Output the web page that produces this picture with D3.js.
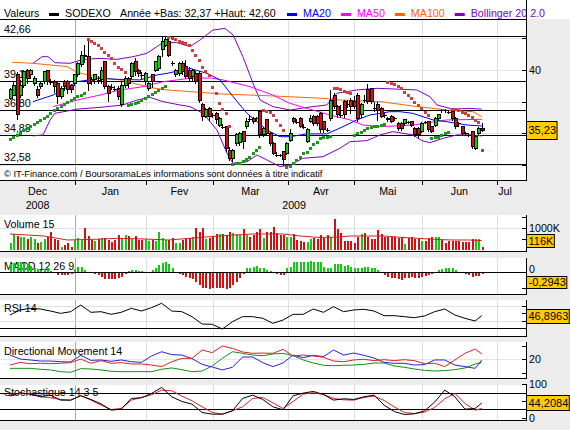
<!DOCTYPE html>
<html>
<head>
<meta charset="utf-8">
<script src="https://cdn.jsdelivr.net/npm/d3@7"></script>
<style>
body { margin: 0; background: #ececec; }
#vis { width: 570px; height: 430px; }
svg { display: block; font-family: "Liberation Sans", Arial, sans-serif; }
</style>
</head>
<body>
<div id="vis"></div>
<script>
// ---------- data ----------
var stockName = "SODEXO";
var yearLow = 32.37, yearHigh = 42.60;

var open = [37.75,38.01,39.59,38.01,38.80,39.98,39.59,38.93,38.41,38.67,
  39.06,39.98,39.06,39.06,38.93,37.88,39.06,39.06,38.80,38.93,
  39.59,40.38,41.10,41.03,39.20,39.20,39.22,39.20,40.64,38.67,
  38.67,38.54,38.54,37.23,38.80,39.33,39.46,40.64,39.98,39.60,
  39.06,38.54,39.59,39.98,40.11,41.56,41.95,42.21,40.55,39.59,
  39.72,40.51,40.25,39.98,39.46,39.72,39.72,37.23,36.31,36.96,
  36.45,36.57,35.65,35.55,35.52,33.68,33.03,34.21,34.30,35.13,
  35.52,36.18,36.18,36.20,36.70,34.87,36.05,35.00,34.21,33.30,
  33.30,33.55,33.42,34.47,36.18,35.93,36.18,35.54,34.34,35.91,
  36.31,36.31,36.57,35.91,35.27,36.18,38.01,37.10,36.46,37.49,
  37.30,37.62,37.49,38.01,36.44,37.63,38.41,38.54,36.98,37.23,
  36.96,36.46,36.18,36.31,36.19,35.78,35.78,35.78,35.92,35.91,
  35.39,35.39,35.13,35.92,35.91,35.52,35.65,36.18,36.84,36.84,
  36.71,36.70,36.18,35.79,35.52,35.01,34.88,35.13,33.82,35.00,
  35.39];
var high = [38.6,39.0,39.8,39.2,40.0,40.1,40.1,39.5,38.7,39.1,
  39.9,40.0,39.3,39.2,39.0,38.7,39.2,39.2,38.9,39.7,
  40.6,41.5,41.95,42.3,39.4,39.7,39.5,40.2,40.7,38.8,
  38.9,38.7,38.7,39.0,39.5,39.4,40.6,40.9,40.1,39.8,
  39.8,39.1,39.7,40.7,41.2,42.6,42.6,42.5,40.7,40.1,
  40.6,40.7,40.8,40.2,40.1,39.9,39.9,37.4,37.0,37.1,
  36.6,36.7,36.3,35.7,35.6,33.9,33.8,35.0,35.1,35.2,
  36.2,36.4,36.3,36.3,36.8,35.5,36.1,35.1,34.3,33.5,
  33.4,33.6,34.3,35.3,36.3,36.1,36.3,35.7,35.4,36.4,
  36.4,36.4,36.7,36.0,35.4,38.4,38.2,37.2,37.2,37.6,
  37.6,37.8,37.9,38.2,37.4,38.0,38.9,38.6,37.5,37.5,
  37.1,36.6,36.3,36.4,36.3,35.9,35.9,36.1,36.0,36.0,
  35.5,35.5,35.9,36.0,36.0,35.6,36.3,36.5,36.95,36.95,
  36.8,36.8,36.3,35.9,35.6,35.1,35.0,35.2,34.9,35.5,
  35.8];
var low = [37.6,37.9,36.05,37.8,38.6,38.9,39.3,38.7,37.8,38.5,
  38.9,38.8,38.8,38.2,37.3,37.7,38.3,38.1,38.2,38.7,
  39.4,40.2,40.5,38.3,38.8,38.9,38.9,38.9,38.5,37.5,
  38.4,38.3,37.6,37.1,38.6,38.6,39.3,39.5,39.4,39.3,
  38.8,38.3,38.6,39.8,39.9,41.0,41.8,41.0,40.3,39.4,
  39.5,39.6,39.3,39.0,39.0,38.9,37.4,36.0,36.2,36.0,
  36.2,35.7,35.5,35.3,33.5,32.8,32.7,34.0,34.0,33.8,
  35.3,35.9,35.7,36.0,34.6,34.7,34.8,34.0,33.3,33.1,
  33.1,32.4,33.3,34.3,35.7,35.7,35.4,35.3,34.2,35.8,
  35.6,35.6,35.0,35.0,35.1,36.0,36.9,36.2,36.2,36.2,
  37.0,36.5,36.9,35.9,36.2,37.4,37.3,37.3,36.7,36.0,
  36.2,36.2,35.9,35.8,36.0,35.2,35.2,35.6,35.7,35.5,
  34.7,34.6,35.0,35.7,35.1,35.0,35.5,36.0,36.6,36.6,
  36.5,36.0,35.3,35.5,34.9,34.8,34.7,33.8,33.7,34.9,
  35.1];
var close = [38.41,38.80,36.44,38.80,39.85,39.33,39.98,39.33,38.01,38.93,
  39.85,39.06,39.04,38.67,37.88,38.54,38.67,38.41,38.46,39.59,
  40.51,41.16,41.05,38.93,39.06,39.59,39.20,39.98,38.67,38.15,
  38.65,38.52,37.88,38.80,39.33,38.93,40.51,39.85,39.72,39.58,
  39.72,38.93,39.06,40.64,41.03,42.21,42.35,41.16,40.51,39.98,
  40.51,39.85,39.46,39.33,39.98,39.06,37.62,36.31,36.90,36.31,
  36.42,36.05,36.18,35.52,33.82,33.03,33.68,34.87,35.00,34.34,
  35.91,36.15,35.91,36.18,34.87,35.39,35.00,34.21,33.42,33.28,
  33.29,32.90,34.21,35.00,35.91,35.91,35.52,35.52,35.26,36.18,
  35.78,35.78,35.26,35.26,35.26,37.62,37.10,36.44,36.44,36.44,
  37.28,37.10,37.10,36.18,37.23,37.62,37.49,37.49,36.96,36.83,
  36.31,36.44,36.05,35.91,36.18,35.39,35.39,36.05,35.91,35.65,
  34.87,34.87,35.78,35.91,35.26,35.13,36.18,36.44,36.83,36.83,
  36.70,36.18,35.52,35.78,35.00,35.00,34.87,33.95,34.73,35.39,
  35.23];

// parabolic SAR, one per session
var sar = [34.55,34.68,34.86,35.0,35.26,35.39,35.57,35.73,35.91,36.05,
  36.18,36.36,36.57,36.83,36.96,37.15,37.3,37.49,37.62,37.75,
  37.9,38.05,38.2,42.42,42.29,42.14,41.95,41.69,41.43,41.16,
  40.9,40.56,40.25,40.04,39.85,37.23,37.3,37.41,37.49,37.62,
  37.75,37.94,38.09,38.28,38.41,38.54,38.7,42.56,42.48,42.42,
  42.29,42.21,42.08,41.95,41.56,41.16,40.77,40.25,39.9,39.59,
  38.67,38.15,37.36,36.9,36.57,35.6,32.58,32.63,32.69,32.84,
  32.95,33.16,33.42,33.68,33.89,36.83,36.78,36.7,36.44,36.05,
  35.65,35.26,32.37,32.45,32.63,32.9,33.16,33.42,33.55,33.82,
  34.16,34.34,34.6,34.68,34.73,34.8,38.6,38.54,38.46,38.36,
  38.28,38.15,34.9,35.0,35.13,35.26,35.39,35.47,35.55,35.6,
  35.65,35.7,39.06,38.99,38.85,38.72,38.54,38.28,38.01,37.75,
  37.49,37.23,36.96,36.7,36.44,34.6,34.68,34.73,34.87,35.05,
  35.13,36.9,36.9,36.83,36.7,36.57,36.44,36.31,36.05,35.9,
  33.68];

// moving averages and bands: [session, value]
var ma20 = [[6.8,37.49],[12.8,38.01],[19.9,39.06],[26.7,39.33],[31.7,39.25],[38.6,39.2],[43.6,39.59],[46.6,39.72],
  [53.4,40.11],[58.4,39.72],[62.3,39.2],[66.2,37.88],[70.3,36.57],[76.2,35.26],[80.1,34.73],[83.1,34.73],[88.1,34.95],
  [94,34.95],[98.8,35.52],[102.9,36.05],[106.8,36.44],[109.8,36.57],[112.7,36.7],[115.7,36.7],[119.5,36.57],
  [125.5,36.05],[129.6,35.91],[135.6,35.65],[140,35.57]];
var ma50 = [[12.8,37.1],[19.9,37.62],[26.7,38.01],[32.6,38.41],[39.5,38.67],[45.4,39.06],[53.4,39.33],[59.4,39.35],
  [63.2,39.2],[71.2,38.67],[78,38.01],[83,37.36],[88.1,36.96],[94.9,36.44],[100.9,36.05],[104.7,35.65],[109.8,35.52],
  [119.5,35.65],[129.6,36.05],[140,36.1]];
var ma100 = [[0.6,40.59],[6.8,40.51],[16.9,40.25],[19.9,39.8],[26.7,39.38],[32.6,39.2],[39.5,38.75],[41.5,38.6],
  [46.6,38.41],[53.4,38.28],[63.2,38.09],[78,37.94],[92.9,37.75],[97.9,37.62],[109.8,37.49],[119.5,37.15],
  [129.6,36.83],[137.3,36.7],[140,36.31]];
var bollUp = [[6.8,40.51],[9.5,41.03],[11.3,41.03],[13.3,40.56],[17.8,40.51],[21.7,40.82],[26.7,40.9],[31.7,40.82],
  [36.5,41.03],[40.6,41.3],[45.4,42.14],[49.5,42.14],[53.4,41.82],[56.4,42.35],[60.2,43.13],[63.8,43.26],[66.2,42.74],
  [69.1,41.03],[72.1,38.93],[74.2,37.62],[78,37.1],[83.1,36.83],[88.1,37.04],[94,37.23],[97,38.15],[102.9,38.41],
  [108.9,38.54],[113.6,38.49],[120.7,38.41],[124.6,37.88],[126.7,37.23],[131.4,36.9],[136.5,36.96],[140,36.9]];
var bollDn = [[6.8,34.79],[9.8,34.87],[11.9,36.05],[13.3,36.57],[19.9,36.9],[26.7,37.04],[33.5,37.23],[37.7,37.62],
  [41.5,37.83],[45.4,37.49],[50.4,37.23],[53.4,37.1],[57.3,36.57],[61.4,35.26],[64.4,33.42],[66.2,32.63],[70.3,32.76],
  [73.3,33.29],[76.2,32.9],[80.1,32.37],[83.1,32.5],[86.9,33.03],[92.9,33.16],[97.9,33.82],[100.9,34.34],[105.9,34.42],
  [109.8,34.87],[113.6,35.13],[119.5,34.87],[122.2,34.42],[124.6,34.26],[128.5,34.6],[132.6,34.87],[136.5,34.87],[140,34.79]];

var levels = [42.66, 39.12, 36.80, 34.88, 32.58];
var priceTicks = [42.5, 40, 37.5, 35, 32.5];
var priceTickLabels = ["", "40", "", "", ""];

// volume in thousands
var volume = [334,728,637,576,576,485,576,485,334,379,
  485,576,834,485,455,152,228,303,121,455,
  531,455,986,637,455,425,485,531,531,455,
  379,455,683,531,683,637,485,637,455,455,
  485,425,455,425,834,531,455,455,531,334,
  303,455,485,531,576,986,834,986,485,531,
  637,728,728,728,683,834,789,728,683,940,
  683,576,683,834,940,531,834,834,1062,789,
  683,683,576,576,728,455,425,379,379,485,
  531,485,683,531,683,576,1395,940,789,425,
  425,425,303,607,728,789,607,485,485,910,
  728,607,576,576,576,531,576,273,531,576,
  485,485,425,425,531,576,576,576,455,334,
  425,425,425,425,379,379,379,485,485,485,
  116];
var volMA = [[0,728],[10,637],[17,455],[25,485],[32,531],[40,500],[47,455],[57,576],[62,637],[72,728],[81,728],
  [86,637],[91,576],[96,576],[101,637],[106,637],[111,637],[116,576],[121,531],[126,485],[131,455],[136,455],[140,425]];

var macdHist = [0.25,0.29,0.32,0.32,0.29,0.25,0.2,0.15,0.1,0.08,
  0.12,0.13,0.04,-0.03,-0.08,-0.1,-0.1,-0.1,-0.06,0.11,
  0.18,0.18,0.07,0.0,-0.03,-0.05,-0.08,-0.14,-0.2,-0.21,
  -0.22,-0.22,-0.19,-0.14,-0.06,0.04,0.07,0.07,0.05,0.04,
  0.0,0.02,0.07,0.13,0.23,0.29,0.32,0.25,0.13,-0.02,
  -0.05,-0.08,-0.14,-0.17,-0.21,-0.3,-0.4,-0.49,-0.51,-0.53,
  -0.51,-0.51,-0.49,-0.51,-0.54,-0.51,-0.4,-0.3,-0.19,-0.05,
  0.13,0.15,0.18,0.21,0.15,0.13,0.07,0.04,-0.03,-0.05,
  -0.08,-0.08,0.15,0.18,0.32,0.32,0.34,0.34,0.32,0.36,
  0.34,0.34,0.32,0.18,0.13,0.15,0.25,0.25,0.25,0.21,
  0.23,0.18,0.13,0.13,0.15,0.18,0.18,0.15,0.13,0.07,
  -0.03,-0.08,-0.14,-0.17,-0.19,-0.21,-0.24,-0.17,-0.17,-0.14,
  -0.19,-0.17,-0.14,-0.11,-0.08,-0.06,0.0,0.07,0.11,0.13,
  0.13,0.13,0.07,0.0,-0.03,-0.06,-0.08,-0.14,-0.11,-0.11,
  -0.06];
var macdLast = -0.2943;

// oscillators sampled every third session, plus the last one
var rsi = [47.6,54.3,56.5,55.6,52.9,49.8,52.0,60.9,51.2,52.0,48.5,51.2,56.5,52.9,57.4,63.2,52.9,52.0,45.4,35.6,
  35.2,28.9,38.7,45.4,45.4,43.2,36.5,40.9,48.5,48.5,55.6,51.2,58.7,52.0,54.3,55.2,52.9,46.7,46.7,45.4,
  44.0,46.3,52.0,55.6,47.6,43.2,39.6,46.8963];
var diPlus = [23.2,20.2,19.5,18.7,18.7,18.2,18.0,23.0,19.2,19.5,18.5,19.5,18.2,17.7,22.5,25.7,23.5,23.2,20.5,16.2,
  14.2,12.0,14.0,21.7,21.7,17.5,14.5,17.2,23.2,21.2,23.0,22.0,27.0,23.2,24.7,23.0,21.0,17.7,17.0,17.0,
  15.7,16.0,19.5,19.5,15.7,14.5,13.2,19.5];
var diMinus = [15.7,17.7,16.7,17.0,16.7,17.0,17.5,20.2,17.0,19.0,17.0,17.5,16.5,16.5,15.7,14.5,18.2,20.7,20.7,27.0,
  25.0,30.0,28.2,25.5,24.5,24.7,24.5,27.5,22.5,23.2,22.5,21.5,18.7,18.2,19.5,20.0,19.0,19.7,19.0,19.7,
  19.0,16.7,17.0,14.5,19.5,24.5,27.7,24.0];
var adx = [13.2,13.2,13.2,12.5,12.0,10.7,10.2,13.0,12.7,12.0,11.0,10.7,10.7,10.7,10.7,12.5,13.5,12.2,10.7,11.2,
  15.0,20.7,25.7,24.5,23.2,22.7,24.0,24.5,22.7,19.5,17.2,15.5,15.2,15.5,15.7,16.2,17.2,17.2,15.0,14.0,
  12.7,11.7,11.2,11.5,12.2,13.5,16.5,17.5];
var stoK = [64.6,74.6,70.6,62.6,67.6,52.6,52.6,65.6,54.6,41.6,22.6,25.6,57.6,59.6,72.6,90.6,62.6,48.6,40.6,15.6,
  10.6,10.6,20.6,57.6,67.6,54.6,32.6,23.6,65.6,73.6,78.6,69.6,52.6,56.6,54.6,62.6,67.6,37.6,18.6,9.6,
  11.6,20.6,46.6,82.6,62.6,25.6,27.6,44.2084];
var stoD = [69.6,72.6,72.6,62.6,59.6,54.6,52.6,66.6,52.6,37.6,24.6,27.6,52.6,60.6,68.6,82.6,80.6,64.6,50.6,32.6,
  15.6,10.6,20.6,32.6,57.6,60.6,44.6,27.6,48.6,70.6,74.6,69.6,57.6,53.6,52.6,60.6,64.6,51.6,32.6,15.6,
  12.6,16.6,30.6,56.6,72.6,42.6,22.6,27.6];

// month boundaries (session position) and labels
var monthStarts = [19.3, 40.3, 60.2, 82.5, 102.0, 122.2, 144.5];
var monthNames = ["Dec", "Jan", "Fev", "Mar", "Avr", "Mai", "Jun", "Jul"];
var yearNames = ["2008", "2009"];

// ---------- drawing ----------
var width = 570, height = 430, plotRight = 527;
var GREEN = "#14c814", RED = "#cc1414";
var firstIdx = -2.97, lastIdx = 149.3;

var svg = d3.select("#vis").append("svg")
    .attr("width", width)
    .attr("height", height)
    .style("font-size", "10.7px");

svg.append("rect").attr("width", width).attr("height", height).attr("fill", "#ececec");
svg.append("rect").attr("width", width).attr("height", 19).attr("fill", "#fff");

var x = d3.scaleLinear().domain([firstIdx, 153.4]).range([0, plotRight]);
function px(i) { return Math.round(x(i)); }
function fr(v, d) { return v.toFixed(d).replace(".", ","); }

var sampleIdx = d3.range(0, 139, 3).concat([140]);

function hline(g, y, color, x1, x2) {
    g.append("line")
        .attr("x1", x1 === undefined ? 0 : x1).attr("x2", x2 === undefined ? plotRight : x2)
        .attr("y1", Math.round(y) + 0.5).attr("y2", Math.round(y) + 0.5)
        .attr("stroke", color).attr("stroke-width", 1);
}

function panel(top, bottom, axisTop) {
    var g = svg.append("g");
    g.append("rect").attr("x", 0).attr("y", top).attr("width", plotRight).attr("height", bottom - top).attr("fill", "#fff");
    monthStarts.forEach(function(m, k) {
        g.append("line")
            .attr("x1", px(m) + 0.5).attr("x2", px(m) + 0.5)
            .attr("y1", top).attr("y2", bottom)
            .attr("stroke", k == 0 ? "#a8a8a8" : "#dedede");
    });
    hline(g, bottom - 1, "#000");
    g.append("line")
        .attr("x1", plotRight - 0.5).attr("x2", plotRight - 0.5)
        .attr("y1", axisTop === undefined ? top : axisTop).attr("y2", bottom)
        .attr("stroke", "#000");
    return g;
}

function rightTick(g, y, label, dy) {
    g.append("line").attr("x1", plotRight - 5).attr("x2", plotRight)
        .attr("y1", Math.round(y) + 0.5).attr("y2", Math.round(y) + 0.5).attr("stroke", "#000");
    if (label) g.append("text").attr("x", plotRight + 2).attr("y", y + (dy === undefined ? 4 : dy)).text(label);
}

function valueBox(yc, txt, h) {
    var r = svg.append("rect").attr("x", plotRight - 0.5).attr("y", Math.round(yc - h / 2) + 0.5)
        .attr("height", h).attr("fill", "#ffcc00").attr("stroke", "#000");
    var t = svg.append("text").attr("x", plotRight + 1.5).attr("y", yc + 4).style("font-size", "11px").text(txt);
    r.attr("width", t.node().getComputedTextLength() + 3);
}

function title(g, y, txt) {
    g.append("text").attr("x", 4).attr("y", y).text(txt);
}

// header
svg.append("text").attr("x", 4).attr("y", 17).text("Valeurs");
svg.append("rect").attr("x", 49).attr("y", 13).attr("width", 10).attr("height", 3).attr("fill", "#000");
svg.append("text").attr("x", 65).attr("y", 17).text(stockName);
svg.append("text").attr("x", 120).attr("y", 17).text("Année +Bas: " + fr(yearLow, 2) + " +Haut: " + fr(yearHigh, 2));

var legend = [["MA20", "#0000ff"], ["MA50", "#ff00ff"], ["MA100", "#ff6600"], ["Bollinger 20 2.0", "#8000c0"]];
var lx = 287;
legend.forEach(function(d) {
    svg.append("rect").attr("x", lx).attr("y", 13).attr("width", 10).attr("height", 3).attr("fill", d[1]);
    var t = svg.append("text").attr("x", lx + 16).attr("y", 17).attr("fill", d[1]).text(d[0]);
    lx = lx + 16 + t.node().getComputedTextLength() + 10;
});

// ---- price panel ----
var yP = d3.scaleLinear().domain([32.58, 42.66]).range([164, 36]);
var gp = panel(19, 181, 0);
hline(gp, 19, "#000");

priceTicks.forEach(function(v) { hline(gp, yP(v), "#e4e4e4", 0, plotRight - 1); });
levels.forEach(function(v) {
    hline(gp, yP(v), "#000");
    gp.append("text").attr("x", 4).attr("y", yP(v) - 3).text(fr(v, 2));
});
priceTicks.forEach(function(v, k) { rightTick(gp, yP(v), priceTickLabels[k]); });

var pline = d3.line().x(function(d) { return x(d[0]); }).y(function(d) { return yP(d[1]); });
[[bollUp, "#8000c0"], [bollDn, "#8000c0"], [ma100, "#ff6600"], [ma50, "#ff00ff"], [ma20, "#0000ff"]].forEach(function(s) {
    gp.append("path").attr("d", pline(s[0])).attr("fill", "none").attr("stroke", s[1]).attr("stroke-width", 1);
});

var candles = gp.append("g").attr("shape-rendering", "crispEdges");
close.forEach(function(c, i) {
    var cx = px(i);
    candles.append("line")
        .attr("x1", cx + 0.5).attr("x2", cx + 0.5)
        .attr("y1", yP(high[i])).attr("y2", yP(low[i]))
        .attr("stroke", "#000");
    var o = open[i];
    if (Math.abs(o - c) < 0.05) {
        candles.append("line")
            .attr("x1", cx - 1.5).attr("x2", cx + 2.5)
            .attr("y1", Math.round(yP(c)) + 0.5).attr("y2", Math.round(yP(c)) + 0.5)
            .attr("stroke", "#000").attr("stroke-width", 1.5);
    } else {
        var top = yP(Math.max(o, c)), bot = yP(Math.min(o, c));
        candles.append("rect")
            .attr("x", cx - 1).attr("y", top)
            .attr("width", 3).attr("height", Math.max(1, bot - top))
            .attr("fill", c > o ? GREEN : RED)
            .attr("stroke", "#000").attr("stroke-width", 1);
    }
});

gp.selectAll(".sar").data(sar).enter().append("rect")
    .attr("class", "sar")
    .attr("x", function(d, i) { return px(i) - 1; })
    .attr("y", function(d) { return Math.round(yP(d)) - 1; })
    .attr("width", 3).attr("height", 3)
    .attr("fill", function(d, i) { return d > close[i] ? "#c84040" : "#1e961e"; });

gp.append("text").attr("x", 4).attr("y", 177).style("font-size", "9.3px")
    .text("© IT-Finance.com / BoursoramaLes informations sont données à titre indicatif");

valueBox(yP(close[close.length - 1]), fr(close[close.length - 1], 2), 18);

// ---- date axis ----
var bounds = [firstIdx].concat(monthStarts).concat([lastIdx]);
monthStarts.forEach(function(m) {
    svg.append("line").attr("x1", px(m) + 0.5).attr("x2", px(m) + 0.5)
        .attr("y1", 181).attr("y2", 185).attr("stroke", "#000");
});
monthNames.forEach(function(n, k) {
    svg.append("text").attr("x", (x(bounds[k]) + x(bounds[k + 1])) / 2).attr("y", 195)
        .attr("text-anchor", "middle").text(n);
});
var yearBounds = [[firstIdx, monthStarts[0]], [monthStarts[0], lastIdx]];
yearNames.forEach(function(n, k) {
    svg.append("text").attr("x", (x(yearBounds[k][0]) + x(yearBounds[k][1])) / 2).attr("y", 209)
        .attr("text-anchor", "middle").text(n);
});

// ---- volume ----
var yV = d3.scaleLinear().domain([0, 1000]).range([250, 228]);
var gv = panel(215, 252);
hline(gv, yV(1000), "#e0e0e0", 0, plotRight - 1);
title(gv, 228, "Volume 15");
gv.append("g").attr("shape-rendering", "crispEdges").selectAll("rect").data(volume).enter().append("rect")
    .attr("x", function(d, i) { return px(i); })
    .attr("y", function(d) { return yV(d); })
    .attr("width", 2)
    .attr("height", function(d) { return yV(0) - yV(d); })
    .attr("fill", function(d, i) { return close[i] >= open[i] ? GREEN : RED; });
gv.append("path").attr("d", d3.line().x(function(d) { return x(d[0]); }).y(function(d) { return yV(d[1]); })(volMA))
    .attr("fill", "none").attr("stroke", "#d02020");
[500, 1000, 1500].forEach(function(v) { rightTick(gv, yV(v), v == 1000 ? "1000K" : ""); });
valueBox(Math.min(yV(volume[volume.length - 1]), 240.5), volume[volume.length - 1] + "K", 13);

// ---- MACD ----
var yM = d3.scaleLinear().domain([-0.5, 0]).range([288, 272.3]);
var gm = panel(258, 295);
title(gm, 270, "MACD 12 26 9");
gm.append("g").attr("shape-rendering", "crispEdges").selectAll("rect").data(macdHist).enter().append("rect")
    .attr("x", function(d, i) { return px(i); })
    .attr("y", function(d) { return Math.min(yM(d), yM(0)); })
    .attr("width", 2)
    .attr("height", function(d) { return Math.abs(yM(d) - yM(0)); })
    .attr("fill", function(d) { return d >= 0 ? GREEN : RED; });
hline(gm, yM(0), "#000");
rightTick(gm, yM(0), "0", 0.5);
rightTick(gm, yM(-0.5), "");
valueBox(yM(macdLast), fr(macdLast, 4), 12);

// ---- RSI ----
var yR = d3.scaleLinear().domain([40, 60]).range([320.7, 305.7]);
var gr = panel(300, 337);
hline(gr, yR(60), "#e0e0e0", 0, plotRight - 1);
hline(gr, yR(40), "#e0e0e0", 0, plotRight - 1);
hline(gr, yR(30), "#000");
title(gr, 312, "RSI 14");
gr.append("path").attr("d", d3.line().x(function(d, k) { return x(sampleIdx[k]); }).y(function(d) { return yR(d); })(rsi))
    .attr("fill", "none").attr("stroke", "#000");
[60, 50, 40].forEach(function(v) { rightTick(gr, yR(v), ""); });
valueBox(yR(rsi[rsi.length - 1]), fr(rsi[rsi.length - 1], 4), 14);

// ---- Directional movement ----
var yD = d3.scaleLinear().domain([10, 30]).range([372.6, 346]);
var gd = panel(342, 379);
hline(gd, yD(20), "#e6e6e6", 0, plotRight - 1);
title(gd, 355, "Directional Movement 14");
var dline = d3.line().x(function(d, k) { return x(sampleIdx[k]); }).y(function(d) { return yD(d); });
[[adx, "#109010"], [diPlus, "#2222dd"], [diMinus, "#dd2222"]].forEach(function(s) {
    gd.append("path").attr("d", dline(s[0])).attr("fill", "none").attr("stroke", s[1]);
});
[30, 20, 10].forEach(function(v) { rightTick(gd, yD(v), v == 20 ? "20" : ""); });

// ---- Stochastic ----
var yS = d3.scaleLinear().domain([0, 100]).range([417.7, 384.3]);
var gs = panel(385, 421);
hline(gs, yS(75), "#000");
hline(gs, yS(25), "#000");
title(gs, 396, "Stochastique 14 3 5");
var sline = d3.line().x(function(d, k) { return x(sampleIdx[k]); }).y(function(d) { return yS(d); });
gs.append("path").attr("d", sline(stoD)).attr("fill", "none").attr("stroke", "#dd2222");
gs.append("path").attr("d", sline(stoK)).attr("fill", "none").attr("stroke", "#000");
[100, 50, 0].forEach(function(v) { rightTick(gs, yS(v), v == 50 ? "" : String(v)); });
valueBox(yS(stoK[stoK.length - 1]), fr(stoK[stoK.length - 1], 4), 15);
</script>
</body>
</html>
